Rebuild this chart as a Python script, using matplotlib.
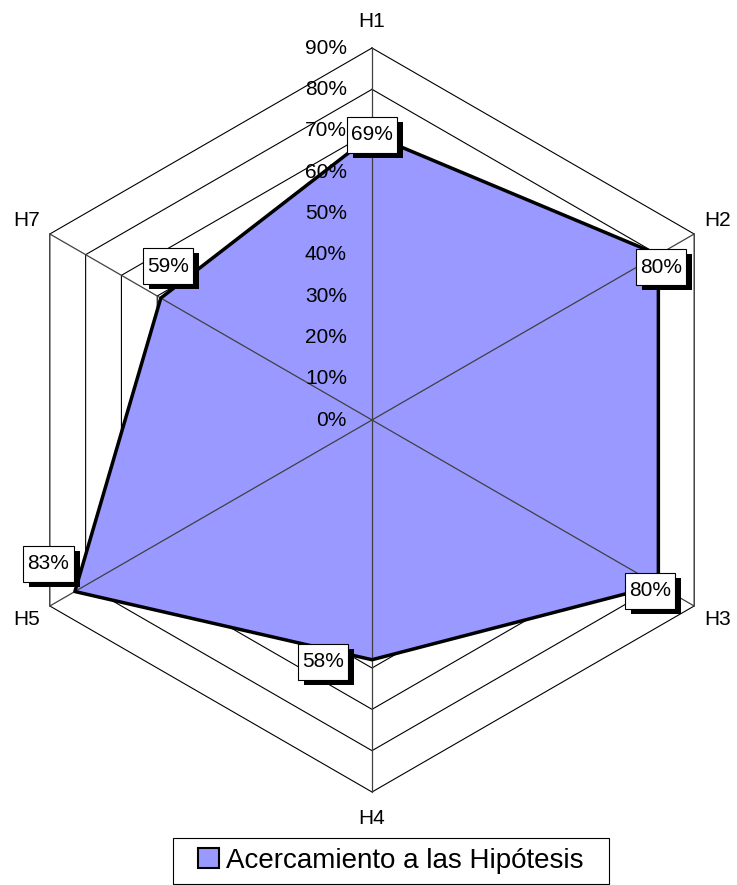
import matplotlib
matplotlib.use("Agg")
import matplotlib.pyplot as plt
import matplotlib.patheffects as pe
import numpy as np
from matplotlib.patches import Patch, Rectangle
from matplotlib.path import Path

plt.rcParams['font.family'] = ['Liberation Sans', 'DejaVu Sans']

# datos del gráfico
categories = ['H1', 'H2', 'H3', 'H4', 'H5', 'H7']
values = [69, 80, 80, 58, 83, 59]
rings = [0, 10, 20, 30, 40, 50, 60, 70, 80, 90]
series_name = 'Acercamiento a las Hipótesis'

# desplazamiento de las etiquetas de datos (puntos)
label_offsets = [(0, 0), (2, -9), (-6, -4), (-35, -1.5), (-19, 20), (5, 23)]

fill_color = '#9999ff'


def tall_box(x0, y0, width, height, mutation_size):
    # caja rectangular con más relleno vertical que horizontal
    px = 0.2 * mutation_size
    py = 0.4 * mutation_size
    x1, y1 = x0 + width + px, y0 + height + py
    x0, y0 = x0 - px, y0 - py
    return Path([(x0, y0), (x1, y0), (x1, y1), (x0, y1), (x0, y0)], closed=True)


fig = plt.figure(figsize=(7.37, 8.85), dpi=100)
ax = fig.add_axes([0, 93 / 885, 744 / 737, 744 / 885], projection='polar')
ax.set_theta_zero_location('N')
ax.set_theta_direction(-1)
ax.set_ylim(0, 90)
ax.set_axis_off()

theta = np.arange(len(categories)) * 2 * np.pi / len(categories)
theta_c = np.append(theta, theta[0])
vals_c = np.append(values, values[0])

# anillos hexagonales
for r in rings[1:]:
    ax.plot(theta_c, [r] * len(theta_c), color='black', lw=0.8, zorder=1, clip_on=False)

# área de la serie
ax.fill(theta_c, vals_c, color=fill_color, zorder=2, clip_on=False)

# radios
for t in theta:
    ax.plot([t, t], [0, rings[-1]], color='#404040', lw=0.9, zorder=3, clip_on=False)

ax.plot(theta_c, vals_c, color='black', lw=2.5, zorder=4, clip_on=False)

# etiquetas del eje radial
for r in rings:
    ax.annotate(f'{r}%', xy=(0, r), xytext=(-18, 0), textcoords='offset points',
                ha='right', va='center', fontsize=15, zorder=5)

# etiquetas de categorías
for t, cat in zip(theta, categories):
    ax.text(t, 96.5, cat, ha='center', va='center', fontsize=15)

# etiquetas de datos con sombra
for t, v, off in zip(theta, values, label_offsets):
    txt = ax.annotate(f'{v}%', xy=(t, v), xytext=off, textcoords='offset points',
                      ha='center', va='center', fontsize=15, zorder=6,
                      bbox=dict(boxstyle=tall_box, fc='white', ec='black', lw=0.8))
    txt.get_bbox_patch().set_path_effects([
        pe.SimplePatchShadow(offset=(4.3, -3.6), shadow_rgbFace='black', alpha=1),
        pe.Normal()])

# leyenda
fig.add_artist(Rectangle((173 / 737, 1 - 884 / 885), 436 / 737, 46 / 885,
                         transform=fig.transFigure, fill=False, ec='black', lw=0.8))
fig.legend(handles=[Patch(facecolor=fill_color, edgecolor='black', linewidth=1.5, label=series_name)],
           loc='center', bbox_to_anchor=(391 / 737, 1 - 861 / 885), frameon=False,
           fontsize=20, handlelength=0.75, handleheight=0.75, handletextpad=0.25)

fig.savefig('out.png', dpi=100)
